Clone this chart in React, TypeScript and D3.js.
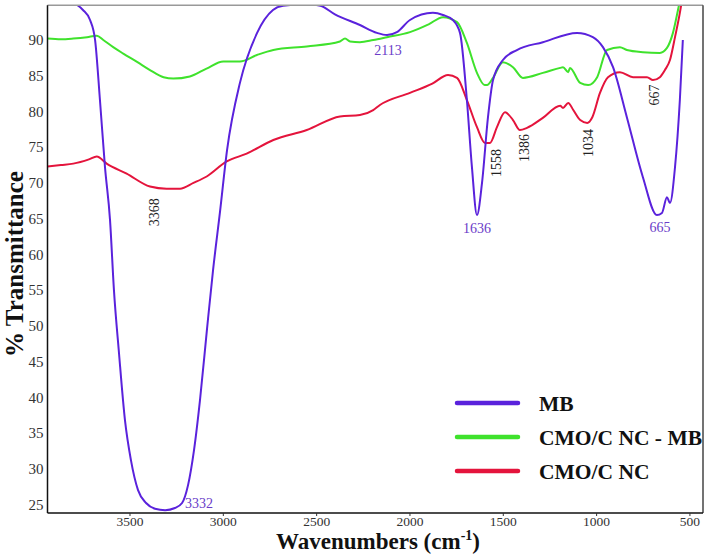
import React from "react";
import * as d3 from "d3";

type P = [number, number];

const seriesNames = ["MB", "CMO/C NC - MB", "CMO/C NC"];
const seriesColors = ["#5a22dc", "#3fe22c", "#e4143c"];

const mbData: P[] = [[3942,95],[3800,95],[3752,94.2],[3714,92.8],[3687,90],[3661,81.6],[3634,72.2],[3607,64.8],[3586,55],[3559,46.2],[3527,36.8],[3495,31.2],[3457,27],[3414,25.2],[3366,24.4],[3312,24.2],[3259,24.5],[3221,25.2],[3189,27.7],[3157,32.6],[3125,39.6],[3088,49.4],[3055,57.8],[3018,65.9],[2980,74.6],[2911,84],[2819,91],[2734,94.2],[2680,94.8],[2550,95],[2480,94.8],[2402,93.6],[2268,92.1],[2177,91],[2123,90.7],[2070,91.1],[2000,92.8],[1877,93.8],[1823,93.5],[1770,92.8],[1732,91],[1695,81.6],[1668,72.2],[1641,65.5],[1614,70],[1582,79.2],[1555,84.4],[1502,87.2],[1427,88.6],[1288,89.7],[1105,91],[1020,90.4],[966,89],[912,86.2],[838,79.2],[752,70.8],[677,65.5],[650,65.8],[623,68],[607,67.2],[580,72.2],[554,81.6],[538,90]];

const greenData: P[] = [[3942,90.2],[3870,90.1],[3804,90.2],[3730,90.4],[3678,90.6],[3643,90],[3590,89],[3536,88.1],[3460,86.9],[3393,85.8],[3320,84.8],[3268,84.6],[3179,84.9],[3090,86],[3000,87],[2911,87],[2820,87.9],[2732,88.6],[2553,89.1],[2375,89.8],[2348,90.2],[2321,89.8],[2268,89.7],[2197,90],[2123,90.4],[2000,91.1],[1900,92.2],[1823,93.2],[1748,92.5],[1695,89.6],[1641,85.4],[1600,83.7],[1587,83.7],[1555,84.7],[1502,86.9],[1448,86.2],[1395,84.7],[1288,85.4],[1195,86.1],[1180,86.2],[1152,85.5],[1143,86.1],[1088,84],[1045,83.7],[997,84.8],[944,88.6],[875,89],[838,88.6],[752,88.3],[661,88.2],[623,88.9],[591,91],[564,94.2],[550,96]];

const redData: P[] = [[3942,72.3],[3870,72.5],[3804,72.7],[3720,73.3],[3678,73.7],[3625,72.7],[3518,71.3],[3393,69.5],[3304,69.2],[3232,69.2],[3160,70],[3089,70.9],[2982,73],[2875,74.1],[2732,76],[2553,77.4],[2375,79.3],[2268,79.5],[2197,80.2],[2161,80.9],[2000,82.6],[1880,83.9],[1796,85.1],[1748,84.7],[1695,81.6],[1641,77.8],[1598,75.6],[1571,75.6],[1534,77.8],[1491,79.9],[1448,78.8],[1411,77.4],[1373,77.7],[1288,79.1],[1195,80.8],[1180,80.5],[1152,81.2],[1125,80.2],[1088,78.8],[1050,78.4],[1023,79.2],[982,82.6],[939,84.8],[875,85.5],[805,84.8],[730,84.8],[698,84.4],[661,84.8],[634,85.8],[607,87.2],[580,90.4],[554,93.8],[540,96]];

const xTicks = [3500, 3000, 2500, 2000, 1500, 1000, 500];
const yTicks = [25, 30, 35, 40, 45, 50, 55, 60, 65, 70, 75, 80, 85, 90];

// annotation: text, wavenumber, %T, rotated, purple?
const annotations: [string, number, number, boolean, boolean][] = [
  ["3368", 3371, 65.9, true, false],
  ["2113", 2118, 88.6, false, true],
  ["1636", 1641, 63.6, false, true],
  ["1558", 1534, 72.8, true, false],
  ["1386", 1384, 74.9, true, false],
  ["1034", 1046, 75.6, true, false],
  ["667", 688, 82.3, true, false],
  ["665", 661, 63.8, false, true],
  ["3332", 3130, 25.1, false, true],
];

const W = 709, H = 554;
const L = 47.5, R = 703, T = 5.3, B = 513;
const serif = "'Liberation Serif', 'DejaVu Serif', serif";

export default function App() {
  const x = d3.scaleLinear().domain([3942, 430]).range([L, R]);
  const y = d3.scaleLinear().domain([23.8, 94.86]).range([B, T]);
  const line = d3.line<P>().x(d => x(d[0])).y(d => y(d[1])).curve(d3.curveMonotoneX);
  const all = [mbData, greenData, redData];
  const drawOrder = [2, 1, 0];

  return (
    <div style={{ position: "fixed", left: 0, top: 0 }}>
      <svg width={W} height={H} style={{ display: "block", background: "#fff" }}>
        <defs>
          <clipPath id="plotclip">
            <rect x={L} y={T} width={R - L} height={B - T} />
          </clipPath>
        </defs>
        <g clipPath="url(#plotclip)">
          {drawOrder.map(i => (
            <path key={i} d={line(all[i]) || ""} fill="none" stroke={seriesColors[i]} strokeWidth={2} strokeLinejoin="round" />
          ))}
        </g>
        <line x1={L} x2={R} y1={T} y2={T} stroke="#999" strokeWidth={1.5} />
        <line x1={R} x2={R} y1={T} y2={B} stroke="#444" strokeWidth={1.5} />
        <line x1={L} x2={L} y1={T} y2={B} stroke="#111" strokeWidth={1.5} />
        <line x1={L} x2={R} y1={B} y2={B} stroke="#111" strokeWidth={1.5} />
        {xTicks.map(t => (
          <g key={t}>
            <line x1={x(t)} x2={x(t)} y1={B} y2={B + 3} stroke="#333" />
            <text x={x(t)} y={B + 12.5} textAnchor="middle" fontFamily={serif} fontSize={13.5} fill="#333">{t}</text>
          </g>
        ))}
        {yTicks.map(t => (
          <text key={t} x={L - 4} y={y(t)} dy="0.35em" textAnchor="end" fontFamily={serif} fontSize={15} fill="#333">{t}</text>
        ))}
        <text transform={`translate(14,264) rotate(-90)`} textAnchor="middle" dominantBaseline="central" fontFamily={serif} fontWeight="bold" fontSize={25} fill="#111">% Transmittance</text>
        <text x={378} y={548.5} textAnchor="middle" fontFamily={serif} fontWeight="bold" fontSize={23} fill="#111">
          Wavenumbers (cm<tspan fontSize={14} dy={-9}>-1</tspan><tspan dy={9}>)</tspan>
        </text>
        {annotations.map(([txt, wn, v, rot, purple]) => {
          const cx = x(wn), cy = y(v);
          return (
            <text key={txt} transform={rot ? `translate(${cx},${cy}) rotate(-90)` : `translate(${cx},${cy})`} textAnchor="middle" dominantBaseline="central" fontFamily={serif} fontSize={14} fill={purple ? "#6a3cc8" : "#222"}>{txt}</text>
          );
        })}
        {seriesNames.map((n, i) => (
          <g key={n} transform={`translate(0,${403 + i * 34})`}>
            <line x1={457} x2={518} y1={0} y2={0} stroke={seriesColors[i]} strokeWidth={4.5} strokeLinecap="round" />
            <text x={539} y={0} dy="0.35em" fontFamily={serif} fontWeight="bold" fontSize={21.5} fill="#111">{n}</text>
          </g>
        ))}
      </svg>
    </div>
  );
}
